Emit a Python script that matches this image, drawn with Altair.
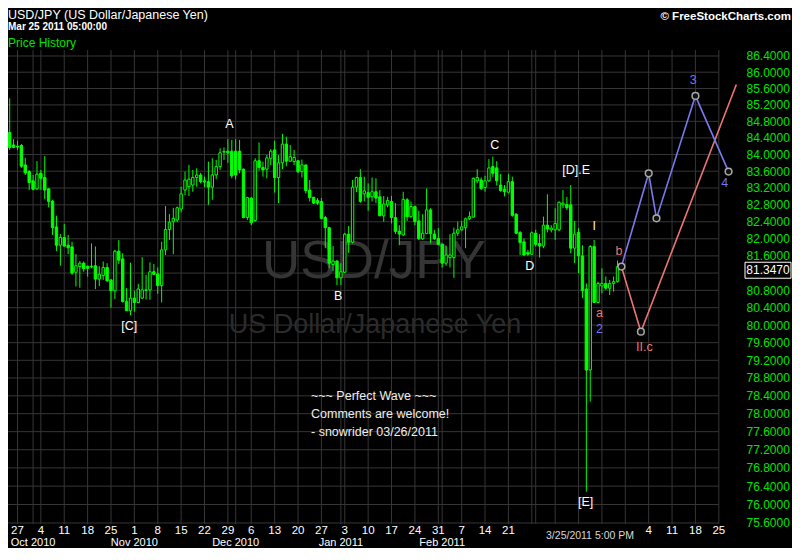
import altair as alt
import pandas as pd

GREEN = "#00ff00"
LABEL_GREEN = "#00e400"
GRID = "#363636"
FONT = "Liberation Sans"

# ---------------- daily candles (6 bars per week, Sep 2010 - Mar 25 2011) ----------------
opens = [84.63, 84.53, 84.23, 84.20, 84.22, 83.75, 83.59, 83.37, 83.18, 83.55,
         83.45, 83.18, 82.89, 82.28, 81.85, 82.03, 81.85, 81.81, 81.22, 81.35,
         81.43, 81.36, 81.36, 81.37, 81.06, 81.14, 81.33, 81.04, 80.79, 81.71,
         81.53, 80.54, 80.33, 80.62, 80.52, 80.62, 80.81, 80.81, 81.23, 81.18,
         80.91, 81.74, 82.22, 82.40, 82.44, 82.70, 83.15, 83.23, 83.27, 83.45,
         83.51, 83.37, 83.35, 83.22, 83.51, 83.71, 84.06, 84.08, 84.08, 84.08,
         84.08, 83.65, 82.50, 82.96, 82.43, 83.85, 83.69, 83.65, 83.91, 84.11,
         83.45, 83.80, 84.25, 83.84, 83.83, 83.85, 83.59, 83.75, 83.15, 82.98,
         82.90, 82.88, 82.50, 82.26, 81.40, 81.48, 81.09, 81.22, 82.11, 81.92,
         83.22, 83.45, 83.06, 83.09, 82.99, 83.11, 82.99, 82.54, 82.80, 82.88,
         82.50, 82.18, 82.09, 82.92, 82.52, 82.76, 82.42, 82.00, 82.12, 82.68,
         82.11, 82.01, 81.87, 81.43, 81.56, 81.56, 82.13, 82.21, 82.26, 82.47,
         82.51, 83.37, 83.39, 83.21, 83.37, 83.71, 83.68, 83.27, 83.17, 83.10,
         83.35, 82.58, 82.15, 81.93, 81.68, 81.64, 82.13, 81.89, 81.83, 82.32,
         82.21, 82.21, 82.21, 82.80, 82.81, 82.80, 81.78, 82.15, 81.60, 80.83,
         78.98, 81.82, 80.52, 80.90, 80.96, 80.85, 80.96, 81.00]
highs = [84.83, 85.36, 84.37, 84.33, 84.25, 83.92, 83.63, 83.51, 83.84, 83.63,
         83.96, 83.19, 82.92, 82.54, 82.11, 82.35, 82.09, 81.93, 81.64, 81.48,
         81.47, 81.37, 81.89, 81.82, 81.36, 81.47, 81.43, 81.06, 81.74, 81.97,
         81.66, 80.85, 81.44, 80.79, 80.95, 81.57, 81.16, 81.45, 81.41, 81.33,
         81.93, 82.77, 82.58, 82.73, 82.76, 83.23, 83.59, 83.75, 83.63, 83.67,
         83.56, 83.47, 83.83, 83.91, 83.87, 84.15, 84.17, 84.37, 84.35, 84.37,
         84.35, 83.66, 82.99, 82.99, 83.91, 84.29, 83.83, 83.99, 84.13, 84.33,
         83.99, 84.50, 84.43, 84.23, 84.11, 83.87, 83.88, 83.75, 83.39, 82.98,
         82.96, 82.96, 82.54, 82.28, 81.83, 81.50, 81.43, 82.14, 82.30, 83.39,
         83.47, 83.65, 83.47, 83.31, 83.45, 83.43, 83.15, 83.01, 82.99, 83.01,
         82.84, 82.32, 83.11, 82.96, 82.88, 82.78, 82.66, 82.58, 83.19, 82.72,
         82.21, 82.25, 81.89, 81.84, 82.11, 82.26, 82.40, 82.42, 82.50, 82.64,
         83.45, 83.65, 83.45, 83.49, 83.89, 83.95, 83.84, 83.53, 83.27, 83.53,
         83.47, 82.60, 82.18, 82.01, 81.74, 82.17, 82.21, 82.11, 82.52, 83.05,
         82.32, 82.72, 82.88, 83.15, 82.99, 83.27, 82.42, 82.25, 81.85, 80.96,
         81.85, 81.97, 81.00, 81.31, 81.12, 81.04, 81.12, 81.49]
lows = [84.11, 84.11, 84.15, 84.11, 83.68, 83.51, 83.15, 83.14, 83.15, 83.15,
        82.93, 82.74, 82.09, 81.71, 81.37, 81.81, 81.64, 81.16, 80.89, 80.86,
        81.23, 81.12, 81.31, 80.83, 80.90, 81.04, 81.00, 80.40, 80.60, 81.41,
        80.52, 80.33, 80.23, 80.31, 80.50, 80.61, 80.59, 80.58, 81.16, 80.72,
        80.52, 81.62, 81.97, 81.64, 82.39, 82.62, 83.03, 83.01, 83.11, 83.23,
        83.31, 83.22, 82.80, 82.92, 83.41, 83.63, 83.87, 83.80, 83.43, 83.40,
        83.55, 82.48, 82.44, 82.32, 82.40, 83.61, 83.47, 83.43, 83.75, 83.09,
        82.84, 83.65, 83.72, 83.83, 83.75, 83.55, 83.45, 83.07, 82.88, 82.82,
        82.80, 82.47, 81.78, 81.31, 81.25, 80.92, 80.92, 81.20, 81.67, 81.89,
        83.10, 82.85, 82.88, 82.66, 82.88, 82.84, 82.54, 82.40, 82.74, 82.36,
        82.11, 81.85, 82.07, 82.42, 82.50, 82.32, 81.97, 81.97, 82.11, 81.89,
        81.97, 81.85, 81.33, 81.37, 81.33, 81.09, 82.06, 82.18, 81.78, 82.44,
        82.50, 83.31, 83.15, 83.11, 83.34, 83.47, 83.26, 83.11, 83.00, 83.07,
        82.52, 82.11, 81.62, 81.60, 81.60, 81.62, 81.82, 81.56, 81.78, 82.15,
        82.15, 81.97, 82.18, 82.72, 82.68, 81.66, 81.43, 81.20, 80.62, 76.28,
        78.27, 80.52, 80.50, 80.73, 80.81, 80.69, 80.77, 80.98]
closes = [84.23, 84.17, 84.17, 84.18, 83.72, 83.56, 83.33, 83.17, 83.53, 83.43,
          83.15, 82.88, 82.26, 81.85, 82.03, 81.83, 81.79, 81.20, 81.37, 81.43,
          81.30, 81.31, 81.35, 81.06, 81.17, 81.33, 81.02, 80.79, 81.71, 81.50,
          80.54, 80.33, 80.62, 80.52, 80.83, 80.81, 80.80, 81.23, 81.17, 80.91,
          81.74, 82.22, 82.39, 82.48, 82.73, 83.06, 83.39, 83.41, 83.45, 83.51,
          83.35, 83.34, 83.22, 83.51, 83.71, 84.04, 84.07, 84.04, 83.49, 83.51,
          83.63, 82.50, 82.97, 82.38, 83.85, 83.69, 83.63, 83.92, 84.08, 83.45,
          83.80, 84.25, 83.84, 83.95, 83.93, 83.59, 83.75, 83.14, 82.97, 82.84,
          82.84, 82.48, 82.26, 81.43, 81.48, 81.09, 81.23, 82.11, 81.92, 83.22,
          83.45, 82.88, 83.13, 82.98, 83.11, 82.96, 82.54, 82.82, 82.90, 82.50,
          82.17, 82.11, 82.93, 82.52, 82.76, 82.40, 82.00, 82.13, 82.68, 82.12,
          82.00, 81.87, 81.43, 81.62, 81.62, 82.13, 82.21, 82.28, 82.47, 82.52,
          83.43, 83.45, 83.19, 83.37, 83.68, 83.55, 83.37, 83.14, 83.11, 83.35,
          82.55, 82.13, 81.91, 81.62, 81.64, 82.14, 81.87, 81.83, 82.32, 82.23,
          82.25, 82.36, 82.86, 82.84, 82.73, 81.78, 82.11, 81.60, 80.79, 78.98,
          81.82, 80.52, 80.96, 80.96, 80.85, 80.96, 81.00, 81.347]
bar_index = list(range(len(opens)))

# ---------------- axes ----------------
price_grid = [75.6, 76.0, 76.4, 76.8, 77.2, 77.6, 78.0, 78.4, 78.8, 79.2, 79.6,
              80.0, 80.4, 80.8, 81.2, 81.6, 82.0, 82.4, 82.8, 83.2, 83.6, 84.0,
              84.4, 84.8, 85.2, 85.6, 86.0, 86.4]
# 81.2000 sits under the last-price box in the original, so it is not printed
price_labels = [75.6, 76.0, 76.4, 76.8, 77.2, 77.6, 78.0, 78.4, 78.8, 79.2, 79.6,
                80.0, 80.4, 80.8, 81.6, 82.0, 82.4, 82.8, 83.2, 83.6, 84.0,
                84.4, 84.8, 85.2, 85.6, 86.0, 86.4]
week_labels = ["27", "4", "11", "18", "25", "1", "8", "15", "22", "29", "6", "13",
               "20", "27", "3", "10", "17", "24", "31", "7", "14", "21",
               "4", "11", "18", "25"]
week_label_bars = [3, 9, 15, 21, 27, 33, 39, 45, 51, 57, 63, 69, 75, 81, 87, 93,
                   99, 105, 111, 117, 123, 129, 165, 171, 177, 183]
grid_bars = [3, 7, 9, 15, 21, 27, 33, 39, 45, 51, 57, 59, 63, 69, 75, 81, 86, 87,
             93, 99, 105, 111, 112, 117, 123, 129, 135, 136, 141, 147, 153, 159,
             165, 171, 177, 183]
grid_end_bar = 183
month_labels = ["Oct 2010", "Nov 2010", "Dec 2010", "Jan 2011", "Feb 2011"]
month_bars = [7, 33, 59, 86, 112]

# ---------------- wave projections ----------------
blue_bars = [158, 165, 167, 177, 185.5]
blue_prices = [81.35, 83.55, 82.48, 85.42, 83.59]
red_bars = [158, 163, 187.5]
red_prices = [81.35, 79.85, 85.70]

# ---------------- wave labels ----------------
wave_text = ["A", "B", "C", "D", "[C]", "[D].E", "[E]", "I", "a", "2", "b", "II.c", "3", "4"]
wave_bars = [57.4, 85.3, 125.5, 134.5, 31.7, 146.4, 148.8, 151.0, 152.4, 152.4,
             157.4, 163.9, 176.4, 184.5]
wave_prices = [84.73, 80.67, 84.23, 81.37, 79.99, 83.63, 76.06, 82.31, 80.27, 79.91,
               81.72, 79.51, 85.81, 83.32]
wave_group = ["main", "main", "main", "main", "main", "main", "main", "minor",
              "red", "blue", "red", "red", "blue", "blue"]

last_price = 81.347

# ---------------- layout ----------------
SVG_W, SVG_H = 784, 540
TOP = 42
VIEW_W, VIEW_H = 735, 474
xs = alt.Scale(domain=[1.848, 1.848 + VIEW_W / 3.95], nice=False, zero=False)
ys = alt.Scale(type="log", domain=[75.578, 86.548], nice=False, zero=False)
yaxis = alt.Axis(orient="right", values=price_labels, format=".4f", labelColor=LABEL_GREEN,
                 labelFont=FONT, labelFontSize=12, ticks=False, domain=False, grid=False,
                 labelPadding=3, title=None, labelOverlap=False, labelFlush=False)


def X(field):
    return alt.X(field, scale=xs, axis=None)


def Y(field):
    return alt.Y(field, scale=ys, axis=yaxis)


candles = pd.DataFrame({"k": bar_index, "o": opens, "h": highs, "l": lows, "c": closes})
hgrid_df = pd.DataFrame({"p": price_grid, "x0": [0] * len(price_grid),
                         "x1": [grid_end_bar] * len(price_grid)})
vgrid_df = pd.DataFrame({"k": grid_bars})

hgrid = alt.Chart(hgrid_df).mark_rule(color=GRID, strokeWidth=1).encode(
    x=X("x0:Q"), x2="x1:Q", y=Y("p:Q"))
vgrid = alt.Chart(vgrid_df).mark_rule(color=GRID, strokeWidth=1).encode(
    x=X("k:Q"), y=alt.value(0), y2=alt.value(VIEW_H))


def pixel_text(txt, x, y, size, color, align="left", weight="normal", baseline="middle"):
    return alt.Chart(pd.DataFrame({"t": [txt]})).mark_text(
        align=align, baseline=baseline, fontSize=size, font=FONT, color=color,
        fontWeight=weight,
    ).encode(x=alt.value(x), y=alt.value(y), text="t:N")


wm1 = pixel_text("USD/JPY", 366, 212, 53, "#353535", align="center")
wm2 = pixel_text("US Dollar/Japanese Yen", 367, 275, 27, "#2b2b2b", align="center")

wicks = alt.Chart(candles).mark_rule(color=GREEN, strokeWidth=1).encode(
    x=X("k:Q"), y=Y("l:Q"), y2="h:Q")
bodies = alt.Chart(candles).mark_bar(width=2.4, stroke=GREEN, strokeWidth=1).encode(
    x=X("k:Q"), y=Y("o:Q"), y2="c:Q",
    fill=alt.condition("datum.c > datum.o", alt.value("#000000"), alt.value(GREEN)),
)

blue_df = pd.DataFrame({"k": blue_bars, "p": blue_prices})
red_df = pd.DataFrame({"k": red_bars, "p": red_prices})
blue_line = alt.Chart(blue_df).mark_line(color="#7a7aee", strokeWidth=1.6).encode(
    x=X("k:Q"), y=Y("p:Q"))
red_line = alt.Chart(red_df).mark_line(color="#ee7474", strokeWidth=1.6).encode(
    x=X("k:Q"), y=Y("p:Q"))
pts_df = pd.DataFrame({"k": blue_bars + red_bars[1:2], "p": blue_prices + red_prices[1:2]})
pts = alt.Chart(pts_df).mark_point(shape="circle", size=45, filled=True, fill="#111111",
                                   stroke="#a8a8a8", strokeWidth=1.5, opacity=1).encode(
    x=X("k:Q"), y=Y("p:Q"))

wave_df = pd.DataFrame({"t": wave_text, "k": wave_bars, "p": wave_prices, "g": wave_group})
wave_labels = alt.Chart(wave_df).mark_text(fontSize=12.5, font=FONT, align="center",
                                           baseline="middle").encode(
    x=X("k:Q"), y=Y("p:Q"), text="t:N",
    color=alt.Color("g:N", legend=None, scale=alt.Scale(
        domain=["main", "minor", "red", "blue"],
        range=["#ffffff", "#fff0c8", "#f07868", "#7474ee"])),
)

note_df = pd.DataFrame({"t": [["~~~ Perfect Wave ~~~", "Comments are welcome!",
                                "- snowrider  03/26/2011"]]})
note = alt.Chart(note_df).mark_text(align="left", baseline="middle", fontSize=12.5,
                                    font=FONT, color="#eeeeee", lineHeight=18).encode(
    x=alt.value(303), y=alt.value(346), text="t")

week_df = pd.DataFrame({"t": week_labels, "k": week_label_bars})
week_axis = alt.Chart(week_df).mark_text(fontSize=11.5, font=FONT, color="#ffffff",
                                         align="center", baseline="middle").encode(
    x=X("k:Q"), y=alt.value(VIEW_H + 7), text="t:N")
month_df = pd.DataFrame({"t": month_labels, "k": month_bars})
month_axis = alt.Chart(month_df).mark_text(fontSize=11, font=FONT, color="#ffffff",
                                           align="center", baseline="middle").encode(
    x=X("k:Q"), y=alt.value(VIEW_H + 18.5), text="t:N")
time_lbl = pixel_text("3/25/2011 5:00 PM", 582, VIEW_H + 12, 10.5, "#d8d8d8", align="center")

title1 = pixel_text("USD/JPY (US Dollar/Japanese Yen)", 0, -35, 12.5, "#ffffff")
title2 = pixel_text("Mar 25 2011 05:00:00", 0, -23, 10, "#ffffff", weight="bold")
title3 = pixel_text("Price History", 0, -7, 12, LABEL_GREEN)
copy_ = pixel_text("\u00a9 FreeStockCharts.com", 783, -33, 11.5, "#ffffff",
                   align="right", weight="bold")

last_df = pd.DataFrame({"p": [last_price], "t": [f"{last_price:.4f}"]})
last_box = alt.Chart(last_df).mark_point(
    shape="M-1,-0.348L1,-0.348L1,0.348L-1,0.348Z", size=2116, filled=True, fill="#000000",
    stroke="#ffffff", strokeWidth=1, opacity=1, yOffset=3.5).encode(
    x=alt.value(VIEW_W + 25), y=Y("p:Q"))
last_txt = alt.Chart(last_df).mark_text(fontSize=12, font=FONT, color="#ffffff",
                                        align="center", baseline="middle", dy=3.5).encode(
    x=alt.value(VIEW_W + 25), y=Y("p:Q"), text="t:N")

chart = alt.layer(
    hgrid, vgrid, wm1, wm2, wicks, bodies, red_line, blue_line, pts, wave_labels,
    note, week_axis, month_axis, time_lbl, title1, title2, title3, copy_,
    last_box, last_txt,
).properties(
    width=VIEW_W, height=VIEW_H,
    padding={"left": 0, "top": TOP, "right": SVG_W - VIEW_W,
             "bottom": SVG_H - TOP - VIEW_H},
    autosize=alt.AutoSizeParams(type="none"),
).configure(background="#000000").configure_view(stroke=None)

chart.save("out.html", embed_options={"renderer": "svg", "actions": False})
